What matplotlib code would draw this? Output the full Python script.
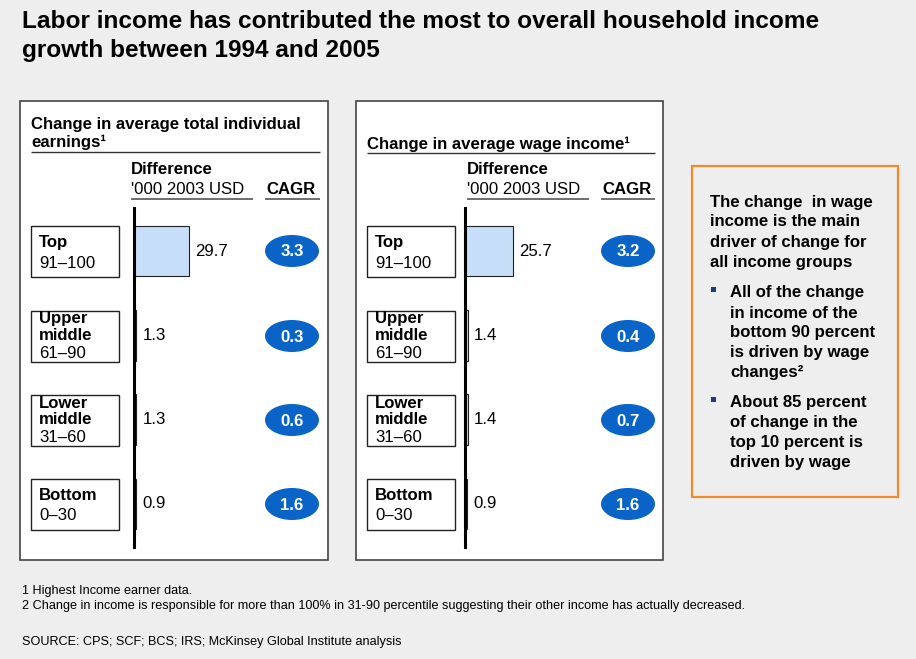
import matplotlib.pyplot as plt
from matplotlib.patches import Rectangle, Ellipse

plt.rcParams['font.family'] = ['Liberation Sans', 'DejaVu Sans']

# Income groups, top to bottom
groups = [["Top"], ["Upper", "middle"], ["Lower", "middle"], ["Bottom"]]
ranges = ["91–100", "61–90", "31–60", "0–30"]

# Change in average total individual earnings ('000 2003 USD) and CAGR (%)
earn_diff = [29.7, 1.3, 1.3, 0.9]
earn_cagr = [3.3, 0.3, 0.6, 1.6]

# Change in average wage income ('000 2003 USD) and CAGR (%)
wage_diff = [25.7, 1.4, 1.4, 0.9]
wage_cagr = [3.2, 0.4, 0.7, 1.6]

W, H = 916, 659
BG = "#EEEEEE"
BAR = "#C6DEF7"
BLUE = "#0A64C8"
ORANGE = "#F28A2A"
FS = 12.1

fig = plt.figure(figsize=(W / 100, H / 100), dpi=100, facecolor=BG)
# Page layer in pixel coordinates
pg = fig.add_axes([0, 0, 1, 1], zorder=0)
pg.set_xlim(0, W)
pg.set_ylim(H, 0)
pg.axis("off")

pg.text(22, 21, "Labor income has contributed the most to overall household income",
        fontsize=17.6, fontweight="bold", va="center")
pg.text(22, 50, "growth between 1994 and 2005", fontsize=17.6, fontweight="bold", va="center")

row_y = [251, 336, 420, 504]


def hline(x0, x1, y, lw=1.0, color="#333333"):
    pg.plot([x0, x1], [y, y], color=color, lw=lw, solid_capstyle="butt")


def panel(x0, x1, ax_x, head_x, title_lines, title_y, uline_y, diffs, cagrs):
    pg.add_patch(Rectangle((x0, 101), x1 - x0, 459, facecolor="white",
                           edgecolor="#444444", lw=1.2))
    tx = x0 + 11
    for line, y in zip(title_lines, title_y):
        pg.text(tx, y, line, fontsize=FS, fontweight="bold", va="center")
    hline(tx, x1 - 8, uline_y)

    pg.text(head_x, 170, "Difference", fontsize=FS, fontweight="bold", va="center")
    pg.text(head_x, 189, "'000 2003 USD", fontsize=FS, va="center")
    hline(head_x, head_x + 122, 199, lw=1.2, color="#555555")
    pg.text(x0 + 246, 190, "CAGR", fontsize=FS, fontweight="bold", va="center")
    hline(x0 + 245, x1 - 8, 199, lw=1.2, color="#555555")

    # group label boxes and CAGR bubbles
    for i, yc in enumerate(row_y):
        pg.add_patch(Rectangle((tx, yc - 25), 88, 51, facecolor="white",
                               edgecolor="#222222", lw=1.0))
        lines = groups[i] + [ranges[i]]
        offs = [-17, 0, 17] if len(lines) == 3 else [-9, 12]
        for j, (s, o) in enumerate(zip(lines, offs)):
            pg.text(tx + 8, yc + o, s, fontsize=FS, va="center",
                    fontweight="bold" if j < len(lines) - 1 else "normal")
        cx = x0 + 272
        pg.add_patch(Ellipse((cx, yc), 54, 32, facecolor=BLUE, edgecolor="none"))
        pg.text(cx, yc + 1, f"{cagrs[i]:.1f}", fontsize=FS, fontweight="bold",
                color="white", ha="center", va="center")

    # bar chart for the differences
    px_per_unit = 1.86
    aw, top, bot = 150, 208, 547
    ax = fig.add_axes([ax_x / W, 1 - bot / H, aw / W, (bot - top) / H], zorder=1)
    ax.patch.set_alpha(0)
    ax.set_xlim(0, aw / px_per_unit)
    ax.set_ylim(3.51, -0.51)
    ax.barh(range(len(diffs)), diffs, height=0.6, color=BAR, edgecolor="#222222", lw=0.8)
    ax.axvline(0, color="black", lw=2.2, clip_on=False)
    for i, v in enumerate(diffs):
        ax.annotate(f"{v:.1f}", (v, i), xytext=(4.5, 0), textcoords="offset points",
                    fontsize=FS, va="center", ha="left")
    ax.axis("off")


panel(20, 328, 134, 131, ["Change in average total individual", "earnings¹"], [124, 142], 152,
      earn_diff, earn_cagr)
panel(356, 663, 465, 467, ["Change in average wage income¹"], [144], 153,
      wage_diff, wage_cagr)

# Takeaway box
pg.add_patch(Rectangle((692, 166), 206, 331, facecolor=BG, edgecolor=ORANGE, lw=1.6))
for s, y in zip(["The change  in wage", "income is the main",
                 "driver of change for", "all income groups"], [202, 222, 242, 262]):
    pg.text(710, y, s, fontsize=FS, fontweight="bold", va="center")
bullets = [(["All of the change", "in income of the", "bottom 90 percent",
             "is driven by wage", "changes²"], 293),
           (["About 85 percent", "of change in the", "top 10 percent is",
             "driven by wage"], 403)]
for lines, y0 in bullets:
    pg.add_patch(Rectangle((711, y0 - 6), 4.5, 4.5, facecolor="#1F3C7A", edgecolor="none"))
    for k, s in enumerate(lines):
        pg.text(730, y0 + 20 * k, s, fontsize=FS, fontweight="bold", va="center")

# Footnotes
pg.text(22, 591, "1 Highest Income earner data.", fontsize=9.1, va="center")
pg.text(22, 606, "2 Change in income is responsible for more than 100% in 31-90 percentile "
        "suggesting their other income has actually decreased.", fontsize=9.1, va="center")
pg.text(22, 642, "SOURCE: CPS; SCF; BCS; IRS; McKinsey Global Institute analysis",
        fontsize=9.1, va="center")

fig.savefig("out.png", dpi=100, facecolor=BG)
